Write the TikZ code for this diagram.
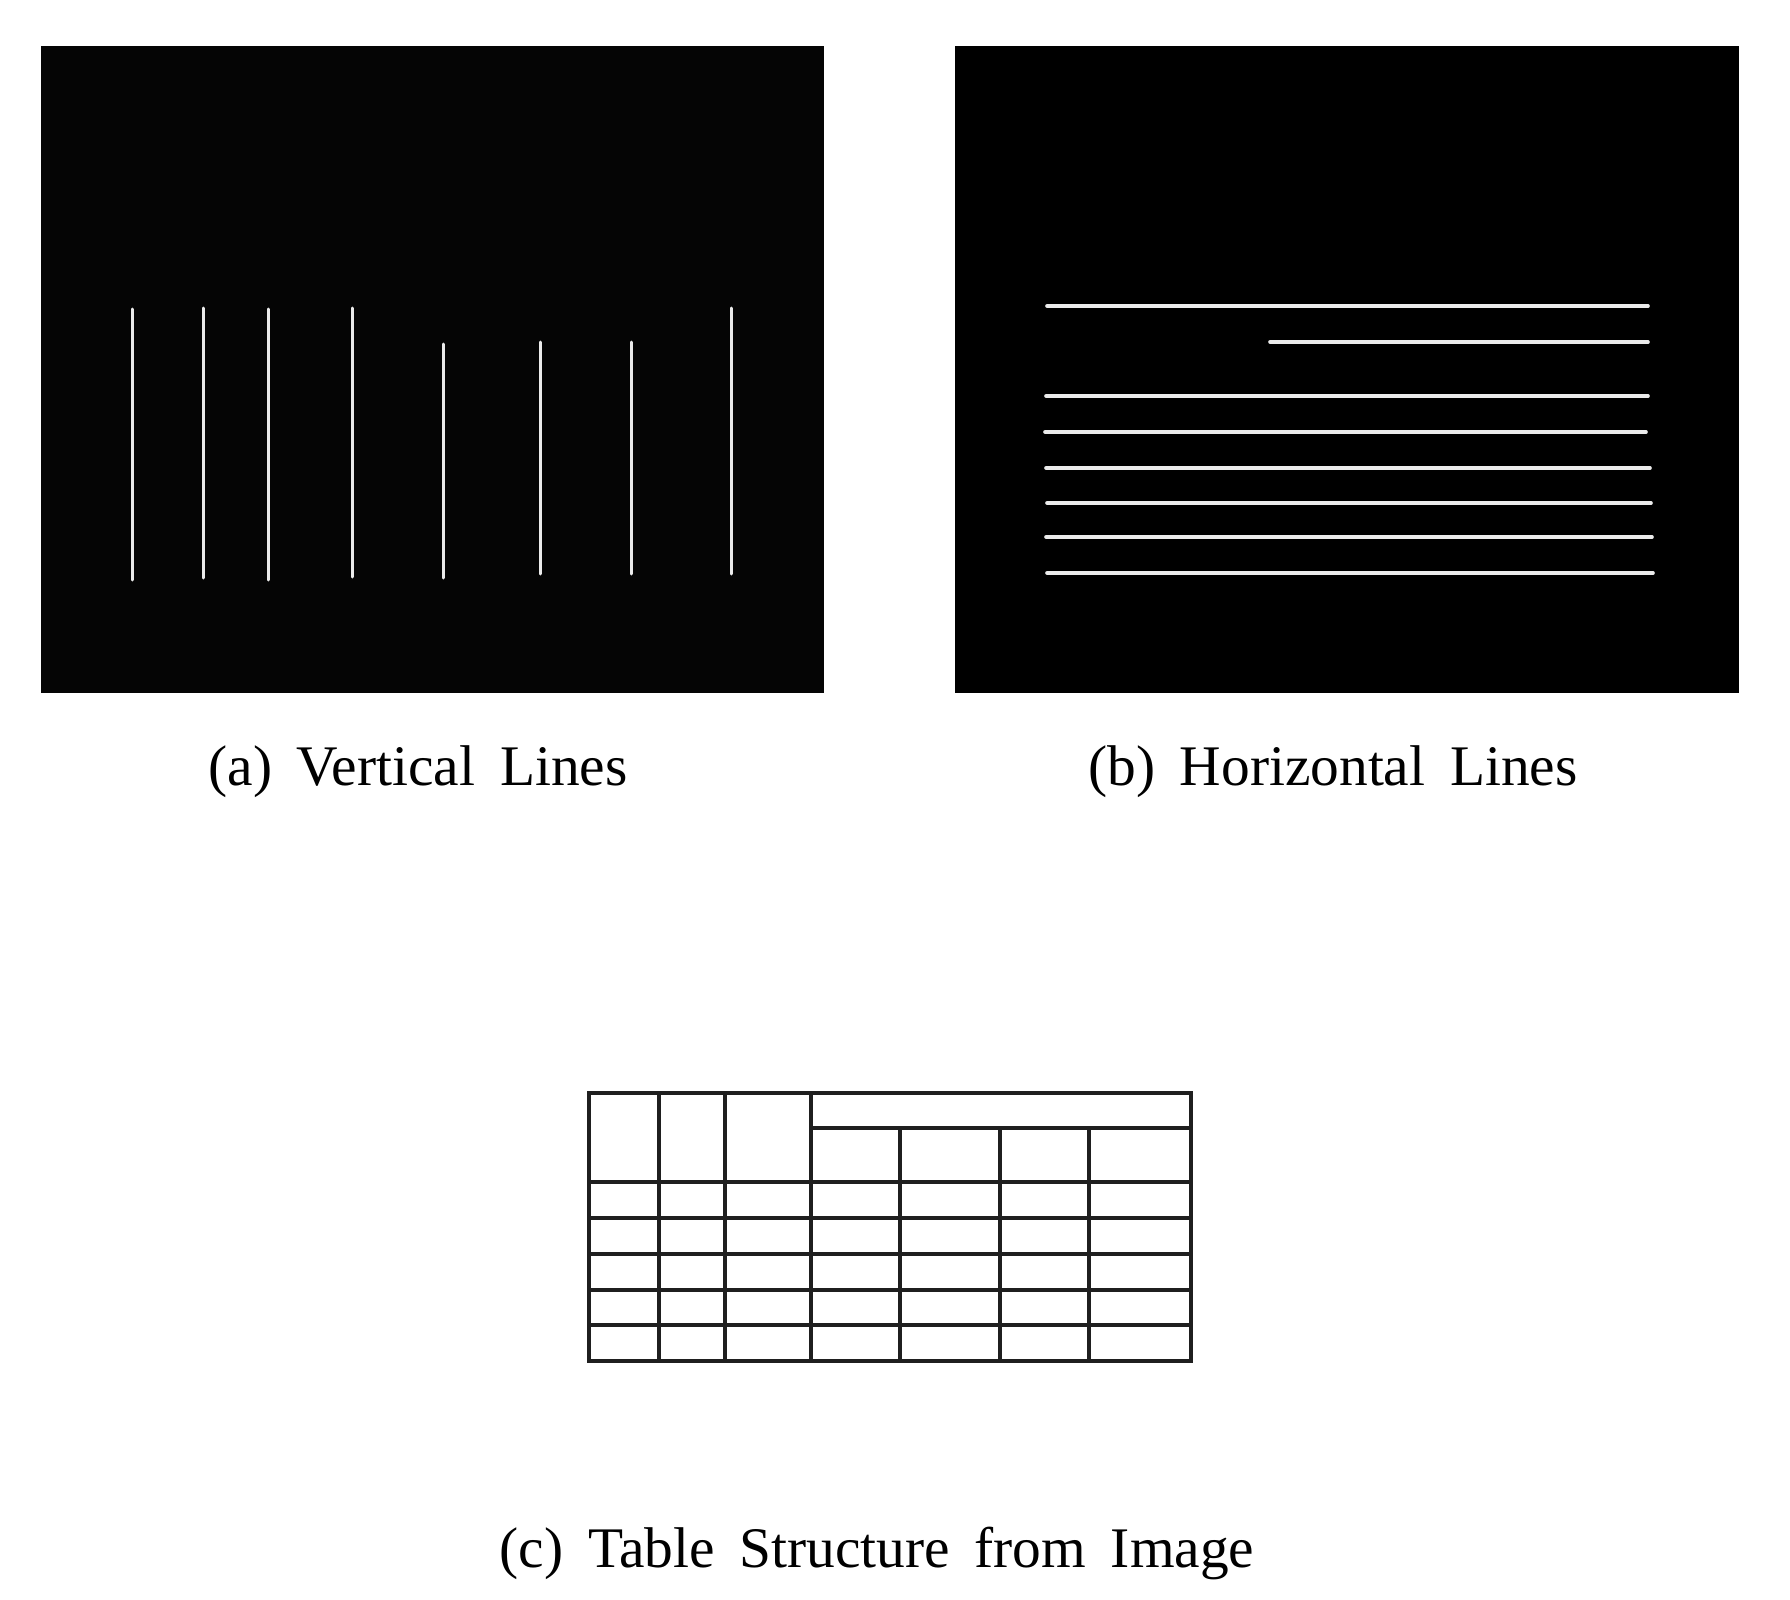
\documentclass[tikz,border=0pt]{standalone}
\usepackage{fontspec}
\setmainfont{Liberation Serif}
\usetikzlibrary{positioning}
\newcommand{\subcaptext}[1]{{\spaceskip=0.43em\relax #1}}
\tikzset{
  panel/.style={fill=black},
  whiteline/.style={draw=white!92!black,line width=1.8pt,line cap=round},
  gridline/.style={draw=black!88!white,line width=1.6pt},
  subcap/.style={font=\fontsize{28.7}{34}\selectfont,anchor=base,inner sep=0pt}
}

\begin{document}
\begin{tikzpicture}[x=0.5pt,y=-0.5pt]
		\useasboundingbox (0,0) rectangle (1790,1600);

		% (a) vertical lines
		\fill[panel,black!98!white] (41,46) rectangle (824,693);
		\draw[whiteline,line width=1.5pt] (132,309) -- (132,580)
				(203,308) -- (203,578)
				(268,309) -- (268,580)
				(352,308) -- (352,577)
				(443,344) -- (443,578)
				(540,342) -- (540,574)
				(631,342) -- (631,574)
				(731,308) -- (731,574);
		\node[subcap] (capa) at (418,785) {\subcaptext{(a) Vertical Lines}};

		% (b) horizontal lines
		\fill[panel] (955,46) rectangle (1739,693);
		\draw[whiteline] (1047,306) -- (1648,306)
				(1270,342) -- (1648,342)
				(1046,396) -- (1648,396)
				(1045,432) -- (1646,432)
				(1046,468) -- (1650,468)
				(1047,503) -- (1651,503)
				(1046,537) -- (1652,537)
				(1047,573) -- (1653,573);
		\node[subcap] (capb) at (1333,785) {\subcaptext{(b) Horizontal Lines}};

		% (c) table structure
		\draw[gridline] (589,1093) rectangle (1191,1361);
		\draw[gridline] (811,1128) -- (1191,1128)
				(589,1182) -- (1191,1182)
				(589,1218) -- (1191,1218)
				(589,1254) -- (1191,1254)
				(589,1290) -- (1191,1290)
				(589,1325) -- (1191,1325);
		\draw[gridline] (659,1093) -- (659,1361)
				(725,1093) -- (725,1361)
				(811,1093) -- (811,1361)
				(900,1128) -- (900,1361)
				(1000,1128) -- (1000,1361)
				(1089,1128) -- (1089,1361);
		\node[subcap] (capc) at (877,1567) {\subcaptext{(c) Table Structure from Image}};
\end{tikzpicture}
\end{document}
